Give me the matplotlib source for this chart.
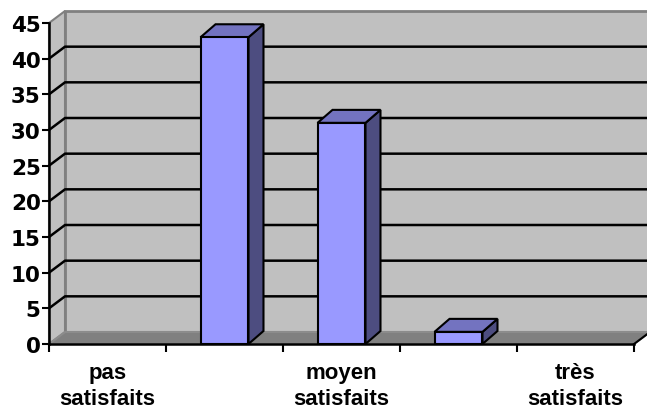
import matplotlib
matplotlib.use("Agg")
import matplotlib.pyplot as plt
from matplotlib.patches import Polygon

categories = ["pas\nsatisfaits", "", "moyen\nsatisfaits", "", "très\nsatisfaits"]
values = [0, 43, 31, 1.7, 0]
yticks = [0, 5, 10, 15, 20, 25, 30, 35, 40, 45]

plt.rcParams['font.family'] = ['Liberation Sans', 'DejaVu Sans']

W, H = 647, 410
fig = plt.figure(figsize=(W / 100, H / 100), dpi=100)
fig.patch.set_facecolor("white")
x0, x1 = 49, 634
ytop, ybot = 24, 345
ax = fig.add_axes([x0 / W, (H - ybot) / H, (x1 - x0) / W, (ybot - ytop) / H])
n = len(categories)
ax.set_xlim(-0.5, n - 0.5)
ax.set_ylim(0, 45)
ax.patch.set_visible(False)

# depth offsets in data units
px_x = (n) / (x1 - x0)
px_y = 45 / (ybot - ytop)
ddx, ddy = 16 * px_x, 12 * px_y
bdx, bdy = 15 * px_x, 13 * px_y

wall = "#c0c0c0"
edge = "#808080"
L, R = -0.5, n - 0.5
ymax = yticks[-1]

# side wall
ax.add_patch(Polygon([(L, 0), (L + ddx, ddy), (L + ddx, ymax + ddy), (L, ymax)],
                     closed=True, facecolor=wall, edgecolor=edge, lw=1.5, zorder=1, clip_on=False))
# back wall
ax.add_patch(Polygon([(L + ddx, ddy), (R + ddx, ddy), (R + ddx, ymax + ddy), (L + ddx, ymax + ddy)],
                     closed=True, facecolor=wall, edgecolor=edge, lw=2, zorder=1, clip_on=False))
# floor
ax.add_patch(Polygon([(L, 0), (R, 0), (R + ddx, ddy), (L + ddx, ddy)],
                     closed=True, facecolor="#808080", edgecolor="#8c8c8c", lw=1.5, zorder=2, clip_on=False))
ax.plot([R, R + ddx], [0, ddy], color="black", lw=1.5, zorder=3, clip_on=False)

# gridlines
for v in yticks[1:-1]:
    ax.plot([L, L + ddx, R + ddx], [v, v + ddy, v + ddy], color="black", lw=1.8, zorder=2,
            clip_on=False, solid_capstyle="butt")

# bars
bw = 0.41
front, top, side = "#9999ff", "#7373c0", "#4d4d80"
for i, v in enumerate(values):
    if v <= 0:
        continue
    a, b = i - bw / 2, i + bw / 2
    kw = dict(closed=True, edgecolor="black", lw=1.5, zorder=5, clip_on=False, joinstyle="miter")
    ax.add_patch(Polygon([(b, 0), (b + bdx, bdy), (b + bdx, v + bdy), (b, v)], facecolor=side, **kw))
    ax.add_patch(Polygon([(a, v), (b, v), (b + bdx, v + bdy), (a + bdx, v + bdy)], facecolor=top, **kw))
    ax.add_patch(Polygon([(a, 0), (b, 0), (b, v), (a, v)], facecolor=front, **kw))

# axes
for s in ["top", "right"]:
    ax.spines[s].set_visible(False)
for s in ["left", "bottom"]:
    ax.spines[s].set_linewidth(1.8)
    ax.spines[s].set_zorder(6)
ax.set_yticks(yticks)
ax.set_yticklabels([str(t) for t in yticks], fontsize=15.5, fontweight="bold",
                   family=["DejaVu Sans"])
ax.tick_params(axis="y", length=5, width=1.5, pad=1)
ax.set_xticks([k - 0.5 for k in range(n + 1)])
ax.set_xticklabels([])
ax.tick_params(axis="x", which="major", length=6, width=1.5)
ax.set_xticks(list(range(n)), minor=True)
ax.set_xticklabels(categories, minor=True, fontsize=16, fontweight="bold", linespacing=1.32)
ax.tick_params(axis="x", which="minor", length=0, pad=13)

fig.savefig("out.png", dpi=100)
